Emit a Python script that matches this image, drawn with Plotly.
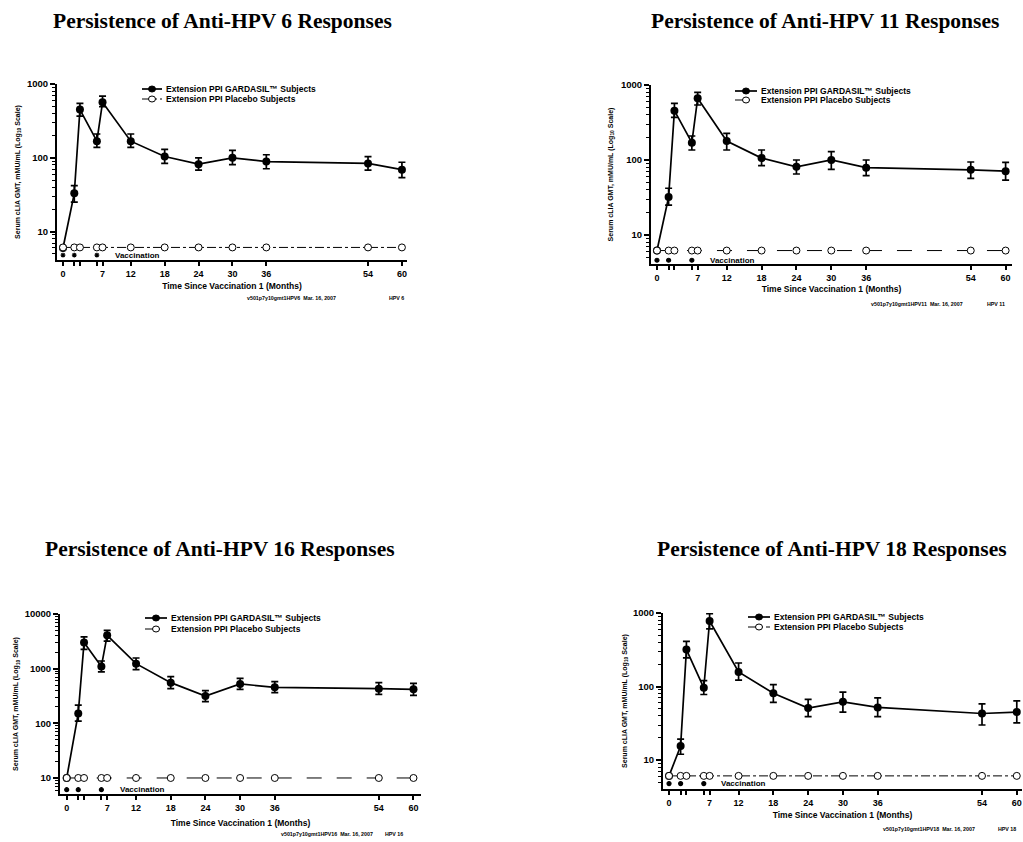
import math
import plotly.graph_objects as go

# ---------------- data ----------------
months = [0, 2, 3, 6, 7, 12, 18, 24, 30, 36, 54, 60]
vacc_months = [0, 2, 6]
x_label_vals = [0, 7, 12, 18, 24, 30, 36, 54, 60]
x_label_text = ["0", "7", "12", "18", "24", "30", "36", "54", "60"]
x_minor_vals = [2, 3, 6]

hpv6_gmt = [6, 33, 450, 168, 565, 168, 104, 82, 100, 89, 84, 69]
hpv6_hi = [6, 42, 547, 210, 687, 210, 130, 100, 126, 110, 104, 87]
hpv6_lo = [6, 25, 368, 138, 492, 138, 84, 68, 81, 71, 68, 54]
hpv6_placebo = [6.1] * 12

hpv11_gmt = [6.2, 32, 455, 170, 664, 179, 106, 81, 100, 79, 74, 71]
hpv11_hi = [6.2, 42, 570, 209, 798, 227, 136, 100, 129, 100, 94, 93]
hpv11_lo = [6.2, 25, 370, 136, 541, 136, 84, 65, 75, 62, 57, 54]
hpv11_placebo = [6.2] * 12

hpv16_gmt = [10, 152, 2995, 1100, 4070, 1234, 555, 316, 525, 456, 431, 419]
hpv16_hi = [10, 216, 3800, 1380, 5030, 1567, 715, 396, 665, 578, 554, 538]
hpv16_lo = [10, 110, 2260, 870, 3200, 960, 430, 249, 418, 364, 339, 325]
hpv16_placebo = [10] * 12

hpv18_gmt = [6.1, 15.5, 318, 96, 778, 158, 81, 51, 62, 52, 43, 45]
hpv18_hi = [6.1, 19.3, 412, 120, 979, 209, 106, 67, 84, 70, 58, 64]
hpv18_lo = [6.1, 12, 245, 78, 607, 122, 61, 39, 45, 39, 30, 32]
hpv18_placebo = [6.1] * 12

titles = ["Persistence of Anti-HPV 6 Responses", "Persistence of Anti-HPV 11 Responses",
          "Persistence of Anti-HPV 16 Responses", "Persistence of Anti-HPV 18 Responses"]
footnotes = ["v501p7y10gmt1HPV6  Mar. 16, 2007", "v501p7y10gmt1HPV11  Mar. 16, 2007",
             "v501p7y10gmt1HPV16  Mar. 16, 2007", "v501p7y10gmt1HPV18  Mar. 16, 2007"]
foot_tags = ["HPV 6", "HPV 11", "HPV 16", "HPV 18"]
legend_labels = ["Extension PPI GARDASIL\u2122 Subjects", "Extension PPI Placebo Subjects"]
y_title = "Serum cLIA GMT, mMU/mL (Log<sub>10</sub> Scale)"
x_title = "Time Since Vaccination 1 (Months)"
vacc_label = "Vaccination"

series = [
    (hpv6_gmt, hpv6_hi, hpv6_lo, hpv6_placebo),
    (hpv11_gmt, hpv11_hi, hpv11_lo, hpv11_placebo),
    (hpv16_gmt, hpv16_hi, hpv16_lo, hpv16_placebo),
    (hpv18_gmt, hpv18_hi, hpv18_lo, hpv18_placebo),
]

# ---------------- layout config (screen pixels) ----------------
W, H = 1023, 842
def fx(px): return px / W
def fy(py): return 1 - py / H

panels = [
    dict(xd=(57, 407), yd=(260, 84), xr=(-1.06, 60.9), yr=(0.615, 3.0),
         yt=[10, 100, 1000], title=(222, 21), ystand=6, xstand=5,
         leg=(142, 162, 89, 99), foot=(338, 298), tag=(406, 298), vy=4.8, vx=8.8,
         dash="dashdot", vsym="asterisk-open"),
    dict(xd=(651, 1012), yd=(264, 85), xr=(-1.03, 61.1), yr=(0.613, 3.0),
         yt=[10, 100, 1000], title=(825, 21), ystand=7, xstand=4,
         leg=(735, 757, 91, 100), foot=(965, 304), tag=(1007, 304), vy=4.6, vx=8.7,
         dash="longdash", vsym="circle"),
    dict(xd=(60, 421), yd=(794, 614), xr=(-1.16, 61.3), yr=(0.707, 4.0),
         yt=[10, 100, 1000, 10000], title=(220, 549), ystand=5, xstand=8,
         leg=(145, 167, 618, 629), foot=(375, 834), tag=(405, 834), vy=6.1, vx=8.8,
         dash="longdash", vsym="circle"),
    dict(xd=(663, 1022), yd=(789, 613), xr=(-1.04, 60.9), yr=(0.607, 3.0),
         yt=[10, 100, 1000], title=(832, 549), ystand=5, xstand=5,
         leg=(748, 770, 617, 627), foot=(977, 829), tag=(1018, 829), vy=4.8, vx=8.7,
         dash="dashdot", vsym="circle"),
]

SANS = "Liberation Sans, Arial, sans-serif"
SERIF = "Liberation Serif, Times New Roman, serif"

fig = go.Figure()
annotations = []
shapes = []
layout_axes = {}

for i, (p, (gmt, hi, lo, plc)) in enumerate(zip(panels, series)):
    n = i + 1
    xa = "x" if n == 1 else f"x{n}"
    ya = "y" if n == 1 else f"y{n}"
    err_plus = [h - g for h, g in zip(hi, gmt)]
    err_minus = [g - l for g, l in zip(gmt, lo)]

    fig.add_trace(go.Scatter(
        x=months, y=gmt, xaxis=xa, yaxis=ya, mode="lines+markers",
        line=dict(color="black", width=1.7),
        marker=dict(symbol="circle", size=8, color="black"),
        error_y=dict(type="data", array=err_plus, arrayminus=err_minus,
                     color="black", thickness=1.7, width=3.5),
        showlegend=False, name=legend_labels[0]))
    fig.add_trace(go.Scatter(
        x=months, y=plc, xaxis=xa, yaxis=ya, mode="lines+markers",
        line=dict(color="black", width=1, dash=p["dash"]),
        marker=dict(symbol="circle", size=7, color="white",
                    line=dict(color="black", width=1)),
        showlegend=False, name=legend_labels[1]))
    fig.add_trace(go.Scatter(
        x=vacc_months, y=[p["vy"]] * len(vacc_months), xaxis=xa, yaxis=ya,
        mode="markers",
        marker=dict(symbol=p["vsym"], size=4, color="black",
                    line=dict(color="black", width=1.2)),
        showlegend=False, hoverinfo="skip"))

    minor_vals = [m * 10 ** k for k in range(0, 4) for m in range(2, 10)]
    layout_axes[f"xaxis{'' if n == 1 else n}"] = dict(
        domain=[fx(p["xd"][0]), fx(p["xd"][1])], anchor=ya, range=list(p["xr"]),
        tickmode="array", tickvals=x_label_vals, ticktext=x_label_text,
        ticks="outside", ticklen=4, tickwidth=1.5, tickcolor="black",
        minor=dict(tickmode="array", tickvals=x_minor_vals, ticks="outside", ticklen=4,
                   tickwidth=1.5, tickcolor="black", showgrid=False),
        showline=True, linecolor="black", linewidth=2, showgrid=False, zeroline=False,
        tickfont=dict(family=SANS, size=9, color="black", weight="bold"),
        title=dict(text=x_title, standoff=p["xstand"],
                   font=dict(family=SANS, size=8.5, color="black", weight="bold")))
    layout_axes[f"yaxis{'' if n == 1 else n}"] = dict(
        domain=[fy(p["yd"][0]), fy(p["yd"][1])], anchor=xa, type="log",
        range=list(p["yr"]), tickmode="array", tickvals=p["yt"],
        ticktext=[str(v) for v in p["yt"]],
        ticks="outside", ticklen=5, tickwidth=1.5, tickcolor="black",
        minor=dict(tickmode="array", tickvals=minor_vals, ticks="outside", ticklen=3,
                   tickwidth=1, tickcolor="black", showgrid=False),
        showline=True, linecolor="black", linewidth=2, showgrid=False, zeroline=False,
        tickfont=dict(family=SANS, size=9.5, color="black", weight="bold"),
        title=dict(text=y_title, standoff=p["ystand"],
                   font=dict(family=SANS, size=7, color="black", weight="bold")))

    annotations.append(dict(text=titles[i], x=fx(p["title"][0]), y=fy(p["title"][1]),
                            xref="paper", yref="paper", showarrow=False,
                            xanchor="center", yanchor="middle",
                            font=dict(family=SERIF, size=21.5, color="black", weight="bold")))
    annotations.append(dict(text=footnotes[i], x=fx(p["foot"][0]), y=fy(p["foot"][1]),
                            xref="paper", yref="paper", showarrow=False,
                            xanchor="right", yanchor="middle",
                            font=dict(family=SANS, size=5.3, color="black", weight="bold")))
    annotations.append(dict(text=foot_tags[i], x=fx(p["tag"][0]), y=fy(p["tag"][1]),
                            xref="paper", yref="paper", showarrow=False,
                            xanchor="right", yanchor="middle",
                            font=dict(family=SANS, size=5.3, color="black", weight="bold")))
    annotations.append(dict(text=vacc_label, x=p["vx"], y=math.log10(p["vy"]),
                            xref=xa, yref=ya, showarrow=False,
                            xanchor="left", yanchor="middle",
                            font=dict(family=SANS, size=8, color="black", weight="bold")))
    lx0, lx1, r1, r2 = p["leg"]
    for row, (ry, lab) in enumerate(zip((r1, r2), legend_labels)):
        shapes.append(dict(type="line", xref="paper", yref="paper",
                           x0=fx(lx0), x1=fx(lx1), y0=fy(ry), y1=fy(ry),
                           line=dict(color="black", width=1.7 if row == 0 else 1,
                                     dash="solid" if row == 0 else p["dash"])))
        shapes.append(dict(type="circle", xref="paper", yref="paper",
                           xsizemode="pixel", ysizemode="pixel",
                           xanchor=fx((lx0 + lx1) / 2), yanchor=fy(ry),
                           x0=-3.5, x1=3.5, y0=-3, y1=3,
                           fillcolor="black" if row == 0 else "white",
                           line=dict(color="black", width=1)))
        annotations.append(dict(text=lab, x=fx(lx1 + 2), y=fy(ry),
                                xref="paper", yref="paper", showarrow=False,
                                xanchor="left", yanchor="middle",
                                font=dict(family=SANS, size=8.5, color="black", weight="bold")))

fig.update_layout(
    width=W, height=H, margin=dict(l=0, r=0, t=0, b=0, autoexpand=False),
    paper_bgcolor="white", plot_bgcolor="white",
    showlegend=False, annotations=annotations, shapes=shapes,
    **layout_axes)

# remove the default page margin so the figure sits at the window's top-left corner
fig.write_html("out.html", config={"displayModeBar": False},
               post_script="document.body.style.margin='0';document.body.style.overflow='hidden';")
